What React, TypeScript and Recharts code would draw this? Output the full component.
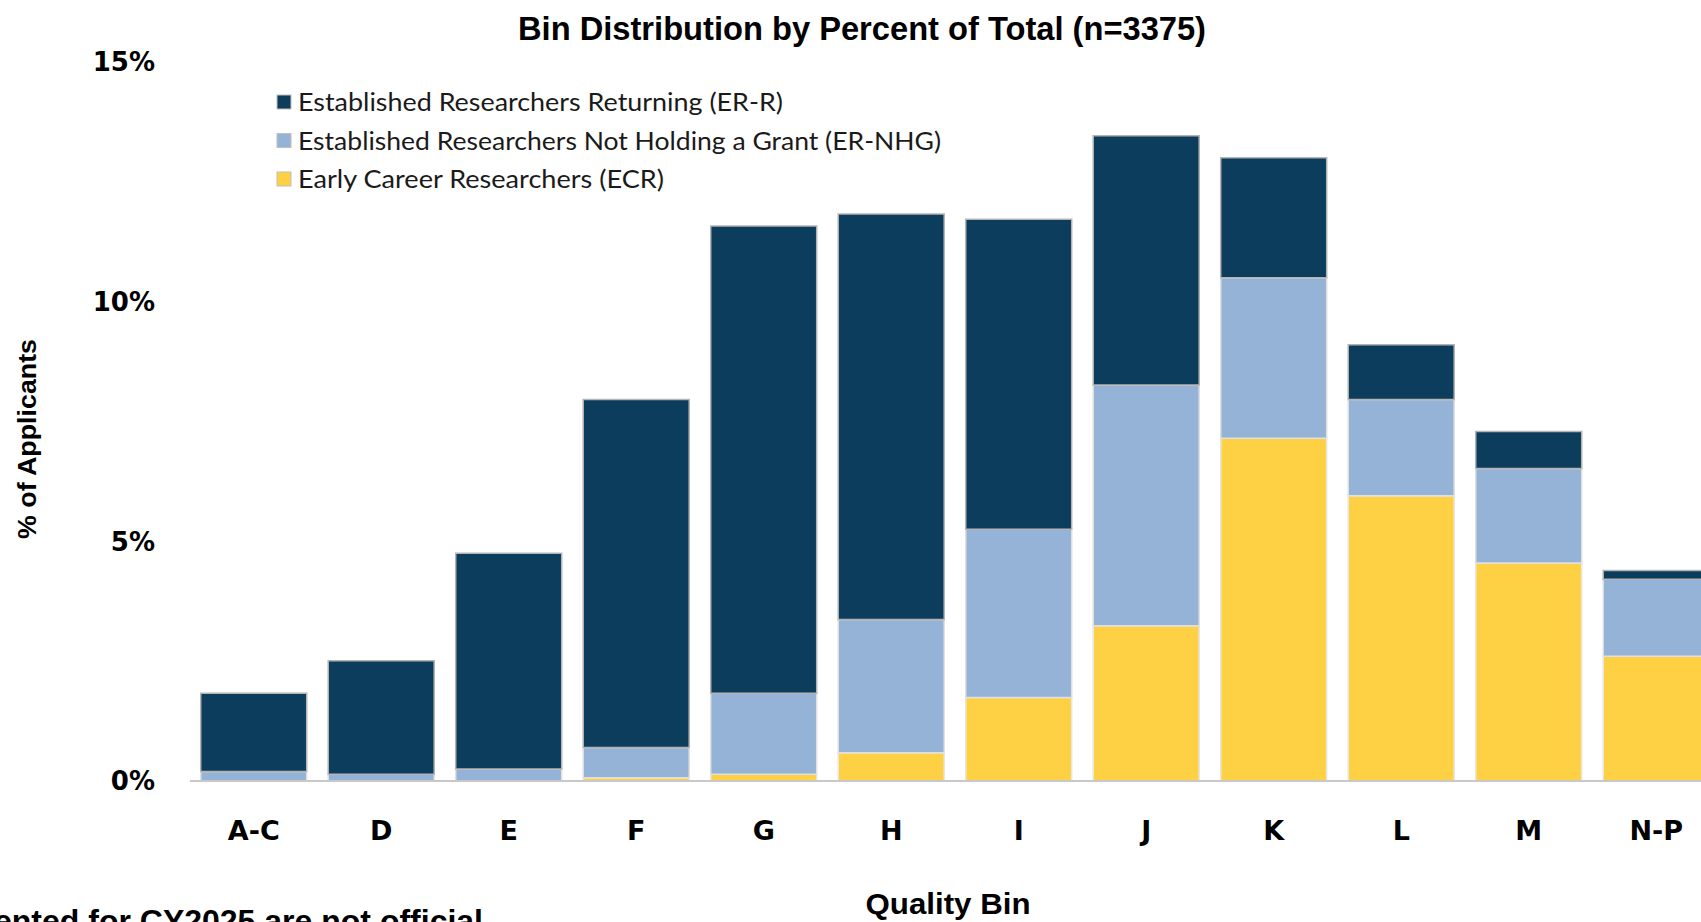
import { BarChart, Bar, XAxis, YAxis, Legend, Label } from "recharts";

const bins = ["A-C", "D", "E", "F", "G", "H", "I", "J", "K", "L", "M", "N-P"];
// percent of applicants per bin
const ecr = [0, 0, 0, 0.07, 0.14, 0.59, 1.74, 3.24, 7.15, 5.95, 4.55, 2.6];
const erNhg = [0.2, 0.14, 0.25, 0.63, 1.69, 2.78, 3.51, 5.02, 3.35, 2.01, 1.97, 1.61];
const erR = [1.63, 2.37, 4.5, 7.26, 9.75, 8.46, 6.47, 5.2, 2.5, 1.14, 0.77, 0.18];
const yTicks = [0, 5, 10, 15];

const data = bins.map((bin, i) => ({ bin, ecr: ecr[i], nhg: erNhg[i], err: erR[i] }));

const NAVY = "#0c3d5c";
const BLUE = "#95b3d7";
const GOLD = "#fed145";

const legendItems = [
  { label: "Established Researchers Returning (ER-R)", color: NAVY, w: 485 },
  { label: "Established Researchers Not Holding a Grant (ER-NHG)", color: BLUE, w: 643 },
  { label: "Early Career Researchers (ECR)", color: GOLD, w: 366 },
];

const bold = { fontFamily: "'Liberation Sans', Arial, sans-serif", fontWeight: 700 };
const tickFont = { fontFamily: "'DejaVu Sans', Verdana, sans-serif", fontWeight: 700, fill: "#000" };

function LegendBox() {
  return (
    <svg width={700} height={120}>
      {legendItems.map((it, i) => {
        const cy = 22 + i * 38.5;
        return (
          <g key={it.label}>
            <rect x={7} y={cy - 7} width={14} height={14} fill={it.color} stroke="#bfbfbf" strokeWidth={1} />
            <text
              x={28}
              y={cy + 9}
              fontFamily="Lato, 'Noto Sans', sans-serif"
              fontSize={25}
              fill="#1a1a1a"
              textLength={it.w}
              lengthAdjust="spacingAndGlyphs"
            >
              {it.label}
            </text>
          </g>
        );
      })}
    </svg>
  );
}

export default function App() {
  return (
    <div style={{ position: "fixed", top: 0, left: 0, width: 1701, height: 922, overflow: "hidden", background: "#fff" }}>
      <BarChart
        width={1720}
        height={922}
        data={data}
        margin={{ top: 62, right: 0, bottom: 0, left: 0 }}
        barCategoryGap="8.4%"
      >
        <XAxis
          dataKey="bin"
          height={141}
          tickLine={false}
          tickSize={0}
          tickMargin={40}
          axisLine={{ stroke: "#c8c8c8", strokeWidth: 2 }}
          tick={{ ...tickFont, fontSize: 27 }}
          interval={0}
        >
          <Label
            content={() => (
              <text x={948} y={914} textAnchor="middle" fontSize={30} {...bold} fill="#000" textLength={165} lengthAdjust="spacingAndGlyphs">
                Quality Bin
              </text>
            )}
          />
        </XAxis>
        <YAxis
          width={190}
          domain={[0, 15]}
          ticks={yTicks}
          tickFormatter={(v) => `${v}%`}
          axisLine={false}
          tickLine={false}
          tickSize={0}
          tickMargin={35}
          tick={{ ...tickFont, fontSize: 26 }}
        >
          <Label
            content={() => (
              <text
                x={36}
                y={439}
                transform="rotate(-90 36 439)"
                textAnchor="middle"
                fontSize={26}
                {...bold}
                fill="#000"
                textLength={200}
                lengthAdjust="spacingAndGlyphs"
              >
                % of Applicants
              </text>
            )}
          />
        </YAxis>
        <Legend
          layout="vertical"
          align="center"
          verticalAlign="middle"
          wrapperStyle={{ top: 80, left: 270, width: 700 }}
          content={() => <LegendBox />}
        />
        <Bar dataKey="ecr" stackId="a" fill={GOLD} stroke="#e6e6e6" strokeWidth={1.5} isAnimationActive={false} />
        <Bar dataKey="nhg" stackId="a" fill={BLUE} stroke="#e0e0e0" strokeWidth={1.5} isAnimationActive={false} />
        <Bar dataKey="err" stackId="a" fill={NAVY} stroke="#b4b4b4" strokeWidth={1.5} isAnimationActive={false} />
      </BarChart>
      <svg width={1701} height={922} style={{ position: "absolute", top: 0, left: 0, pointerEvents: "none" }}>
        <text x={862} y={40} textAnchor="middle" fontSize={34} {...bold} fill="#000" textLength={688} lengthAdjust="spacingAndGlyphs">
          Bin Distribution by Percent of Total (n=3375)
        </text>
        <text x={483} y={932} textAnchor="end" fontSize={32} {...bold} fill="#000">
          presented for CY2025 are not official
        </text>
      </svg>
    </div>
  );
}
